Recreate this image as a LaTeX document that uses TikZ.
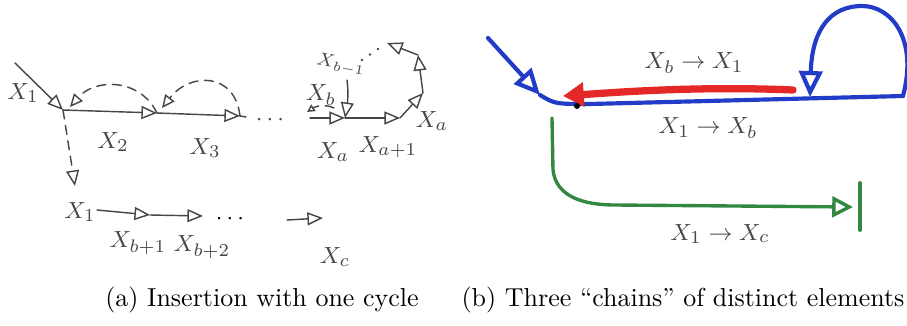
\documentclass[tikz,border=0pt]{standalone}
\usepackage{tikz}
\usetikzlibrary{arrows.meta, calc}
\definecolor{skK}{RGB}{70,70,70}
\definecolor{skB}{RGB}{35,60,200}
\definecolor{skR}{RGB}{228,40,40}
\definecolor{skG}{RGB}{50,135,65}
\tikzset{
  hand/.style={skK, line width=0.55pt, line cap=round},
  harr/.style={hand, -{Triangle[open, length=6pt, width=5pt]}},
  hdash/.style={hand, dash pattern=on 3.5pt off 2.5pt},
  lbl/.style={text=skK, inner sep=1pt, font=\fontsize{9.5}{11}\selectfont},
  slbl/.style={text=skK, inner sep=0.5pt, font=\fontsize{7}{8}\selectfont},
  capt/.style={inner sep=0pt, font=\fontsize{10}{12}\selectfont}
}

\begin{document}
\begin{tikzpicture}[x=0.385pt, y=-0.385pt]
\useasboundingbox (0,0) rectangle (907,326);
% ---------------- (a) insertion with one cycle ----------------
% upper chain
\coordinate (in) at (15,63);
\coordinate (p1) at (63,110);
\coordinate (p2) at (157,113);
\coordinate (p3) at (240,116);
\coordinate (q0) at (310,118);
\coordinate (pa) at (345,118);
\coordinate (pa1) at (400,118);
\coordinate (pa2) at (423,93);
\coordinate (pc1) at (418,55);
\coordinate (pc2) at (387,43);
\coordinate (pb1) at (347,80);
\draw[harr] (in) -- (p1);
\draw[harr] (p1) -- (p2);
\draw[harr] (p2) -- (p3);
\draw[hand] (p3) -- ++(6,1);
\node[lbl] (dotsA) at (270,120) {$\cdots$};
\draw[harr] (q0) -- (pa);
\draw[harr] (pa) -- (pa1);
\draw[harr] (pa1) -- (pa2);
\draw[harr] (pa2) -- (pc1);
\draw[harr] (pc1) -- (pc2);
% dots of the cycle
\foreach \t in {0,0.5,1}
  \fill[skK] ($(362,60)!\t!(378,49)$) circle (1.4);
\draw[harr] (pb1) .. controls (349,95) and (347,105) .. (pa);
% dashed back edges
\draw[hdash, -{Triangle[open, length=5pt, width=4.5pt]}] (p2) .. controls (140,78) and (95,78) .. (70,107);
\draw[hdash, -{Triangle[open, length=5pt, width=4.5pt]}] (p3) .. controls (235,72) and (190,72) .. (162,108);
\draw[hdash, -{Triangle[open, length=3pt, width=3pt]}] (334,108) .. controls (326,104) and (316,106) .. (307,112);
% labels of the upper chain
\node[lbl] (l1) at (23,93) {$X_1$};
\node[lbl] (l2) at (113,142) {$X_2$};
\node[lbl] (l3) at (205,148) {$X_3$};
\node[lbl] (la) at (333,152) {$X_a$};
\node[lbl] (la1) at (388,147) {$X_{a+1}$};
\node[lbl] (la2) at (432,121) {$X_a$};
\node[lbl] (lb) at (321,95) {$X_b$};
\node[slbl, rotate=-10] (lb1) at (341,65) {$X_{b-1}$};
% second chain
\coordinate (dn) at (75,186);
\coordinate (r1) at (97,210);
\coordinate (rb1) at (150,215);
\coordinate (rb2) at (203,216);
\coordinate (rc0) at (287,220);
\coordinate (rc) at (323,218);
\draw[hdash, -{Triangle[open, length=6pt, width=5pt]}] (p1) -- (dn);
\draw[harr] (r1) -- (rb1);
\draw[harr] (rb1) -- (rb2);
\node[lbl, text=black] (dotsB) at (230,219) {$\cdots$};
\draw[harr] (rc0) -- (rc);
\node[lbl] (m1) at (80,212) {$X_1$};
\node[lbl] (mb1) at (138,243) {$X_{b+1}$};
\node[lbl] (mb2) at (202,247) {$X_{b+2}$};
\node[lbl] (mc) at (335,257) {$X_c$};
% ---------------- (b) three chains ----------------
% blue chain with the cycle
\coordinate (bin) at (488,38);
\coordinate (bs) at (540,95);
\coordinate (bl) at (590,104);
\coordinate (be) at (903,96);
\coordinate (bt) at (810,97);
\draw[skB, line width=1.6pt, line cap=round, -{Triangle[open, length=10pt, width=9pt]}] (bin) -- (bs);
\draw[skB, line width=1.6pt, line cap=round] (bs) .. controls (555,104) .. (bl) -- (be);
\draw[skB, line width=1.6pt, line cap=round, -{Triangle[open, length=10pt, width=9pt]}]
  (be) .. controls (918,40) and (892,6) .. (862,6) .. controls (830,6) and (812,30) .. (bt);
% red chain back to the start
\coordinate (rs) at (793,90);
\coordinate (rt) at (563,96);
\draw[skR, line width=2.8pt, line cap=round, -{Triangle[length=8pt, width=9pt]}] (rs) .. controls (700,86) and (620,92) .. (rt);
\fill[black] (577,106) circle (3);
% green chain
\coordinate (gs) at (552,118);
\coordinate (gt) at (853,207);
\draw[skG, line width=1.3pt, line cap=round, -{Triangle[open, length=8pt, width=8pt]}]
  (gs) -- (553,170) .. controls (556,196) and (582,205) .. (615,205) -- (gt);
\draw[skG, line width=1.5pt, line cap=round] (860,183) -- (860,230);
% chain labels
\node[lbl] (cb1) at (694,63) {$X_b \to X_1$};
\node[lbl] (c1b) at (708,128) {$X_1 \to X_b$};
\node[lbl] (c1c) at (720,234) {$X_1 \to X_c$};
% ---------------- captions ----------------
\node[capt] (ca) at (262,300) {(a) Insertion with one cycle};
\node[capt] (cb) at (683,300) {(b) Three ``chains'' of distinct elements};
\end{tikzpicture}
\end{document}
